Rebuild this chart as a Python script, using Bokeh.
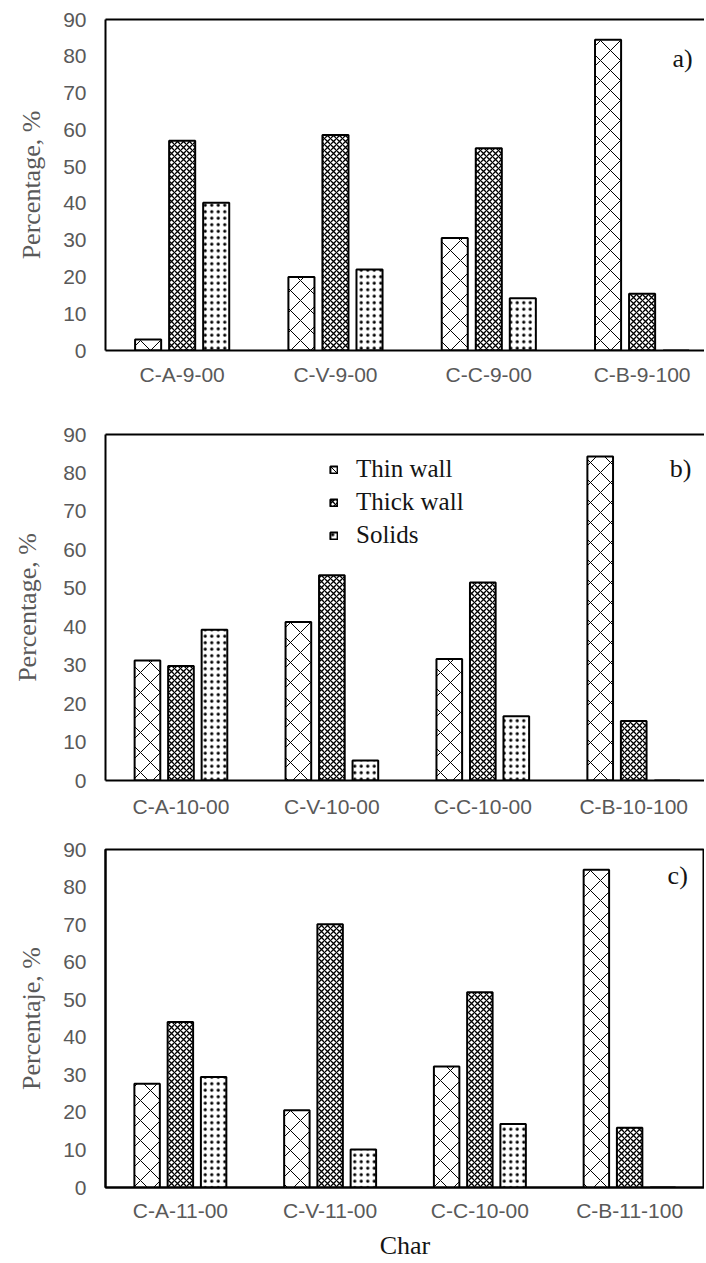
import numpy as np
from bokeh.plotting import figure
from bokeh.models import (ColumnDataSource, FixedTicker, LinearAxis, Legend,
                          LegendItem, Label, Range1d)
from bokeh.transform import dodge
from bokeh.layouts import column
from bokeh.embed import file_html
from bokeh.resources import INLINE

# ---------------- data ----------------
series = ["Thin wall", "Thick wall", "Solids"]
y_ticks = [0, 10, 20, 30, 40, 50, 60, 70, 80, 90]

cats_a = ["C-A-9-00", "C-V-9-00", "C-C-9-00", "C-B-9-100"]
thin_a = [3.0, 20.0, 30.6, 84.5]
thick_a = [57.0, 58.6, 55.0, 15.4]
solids_a = [40.2, 22.0, 14.2, 0.0]

cats_b = ["C-A-10-00", "C-V-10-00", "C-C-10-00", "C-B-10-100"]
thin_b = [31.2, 41.2, 31.6, 84.3]
thick_b = [29.8, 53.4, 51.5, 15.5]
solids_b = [39.2, 5.2, 16.7, 0.0]

cats_c = ["C-A-11-00", "C-V-11-00", "C-C-10-00", "C-B-11-100"]
thin_c = [27.6, 20.6, 32.2, 84.6]
thick_c = [44.1, 70.1, 52.0, 15.9]
solids_c = [29.4, 10.1, 16.9, 0.0]

ylabel_ab = "Percentage, %"
ylabel_c = "Percentaje, %"
xlabel_c = "Char"
tags = ["a)", "b)", "c)"]

# ---------------- styles ----------------
SANS = "Liberation Sans"
SERIF = "Liberation Serif"
GRAY = "#595959"
INK = "#141414"
W = 704
BAR_W = 0.17
OFF = 0.222
hatch_styles = [
    dict(hatch_pattern="x", hatch_scale=20, hatch_weight=1.0),
    dict(hatch_pattern="x", hatch_scale=6, hatch_weight=1.3),
    dict(hatch_pattern=".", hatch_scale=6.5, hatch_weight=1.0),
]


def make_panel(cats, thin, thick, solids, x_end, height, top, bottom, left,
               ylabel, tag, tag_x, tag_y, right_border, ylabel_standoff,
               tick_standoff, xlabel=None, legend_loc=None):
    p = figure(width=W, height=height, output_backend="svg",
               toolbar_location=None, x_range=Range1d(0, x_end),
               y_range=Range1d(0, 90), min_border_top=top,
               min_border_bottom=bottom, min_border_left=left,
               min_border_right=0, x_axis_location=None,
               y_axis_location=None)
    p.background_fill_color = "white"
    p.border_fill_color = "white"
    p.xgrid.visible = False
    p.ygrid.visible = False
    if right_border:
        p.outline_line_color = "black"
        p.outline_line_width = 2
    else:
        p.outline_line_color = None

    xc = list(np.arange(len(cats)) + 0.5)
    src = ColumnDataSource(dict(xc=xc, thin=thin, thick=thick, solids=solids))
    renderers = []
    for key, off, st in zip(["thin", "thick", "solids"], [-OFF, 0.0, OFF],
                            hatch_styles):
        r = p.vbar(x=dodge("xc", off, range=p.x_range), top=key, bottom=0,
                   width=BAR_W, source=src, fill_color="white",
                   line_color="black", line_width=2, hatch_color="black",
                   **st)
        renderers.append(r)

    # axes
    xaxis = LinearAxis(ticker=FixedTicker(ticks=xc),
                       major_label_overrides={float(x): c for x, c in zip(xc, cats)})
    xaxis.major_tick_line_color = None
    xaxis.minor_tick_line_color = None
    xaxis.major_tick_out = 0
    xaxis.major_tick_in = 0
    xaxis.axis_line_width = 2
    xaxis.axis_line_color = "black"
    xaxis.major_label_text_font = SANS
    xaxis.major_label_text_font_size = "21px"
    xaxis.major_label_text_color = GRAY
    xaxis.major_label_standoff = tick_standoff
    if xlabel:
        xaxis.axis_label = xlabel
        xaxis.axis_label_text_font = SERIF
        xaxis.axis_label_text_font_size = "26px"
        xaxis.axis_label_text_font_style = "normal"
        xaxis.axis_label_text_color = INK
        xaxis.axis_label_standoff = 6
    p.add_layout(xaxis, "below")

    yaxis = LinearAxis(ticker=FixedTicker(ticks=y_ticks))
    yaxis.major_tick_line_color = None
    yaxis.minor_tick_line_color = None
    yaxis.major_tick_out = 0
    yaxis.major_tick_in = 0
    yaxis.axis_line_width = 2
    yaxis.axis_line_color = "black"
    yaxis.major_label_text_font = SANS
    yaxis.major_label_text_font_size = "21px"
    yaxis.major_label_text_color = GRAY
    yaxis.major_label_standoff = 19
    yaxis.axis_label = ylabel
    yaxis.axis_label_text_font = SERIF
    yaxis.axis_label_text_font_size = "26px"
    yaxis.axis_label_text_font_style = "normal"
    yaxis.axis_label_text_color = GRAY
    yaxis.axis_label_standoff = ylabel_standoff
    p.add_layout(yaxis, "left")

    if not right_border:
        top_axis = LinearAxis(ticker=FixedTicker(ticks=[]))
        top_axis.major_tick_line_color = None
        top_axis.minor_tick_line_color = None
        top_axis.major_tick_out = 0
        top_axis.major_tick_in = 0
        top_axis.axis_line_width = 2
        top_axis.axis_line_color = "black"
        p.add_layout(top_axis, "above")

    p.add_layout(Label(x=tag_x, y=tag_y, text=tag, text_font=SERIF,
                       text_font_size="26px", text_color=INK,
                       text_align="center", text_baseline="middle"))

    if legend_loc is not None:
        leg = Legend(items=[LegendItem(label=s, renderers=[r])
                            for s, r in zip(series, renderers)],
                     location=legend_loc, glyph_width=9, glyph_height=9,
                     label_standoff=18, spacing=5, padding=0, margin=0,
                     border_line_color=None, background_fill_alpha=0,
                     label_text_font=SERIF, label_text_font_size="25px",
                     label_text_color=INK)
        p.add_layout(leg)
    return p


pa = make_panel(cats_a, thin_a, thick_a, solids_a, x_end=3.907, height=392,
                top=19, bottom=42, left=105, ylabel=ylabel_ab, tag=tags[0],
                tag_x=3.764, tag_y=79.4, right_border=False,
                ylabel_standoff=14, tick_standoff=12)
pb = make_panel(cats_b, thin_b, thick_b, solids_b, x_end=3.969, height=428,
                top=42, bottom=39, left=98, ylabel=ylabel_ab, tag=tags[1],
                tag_x=3.811, tag_y=81.2, right_border=False,
                ylabel_standoff=18, tick_standoff=14, legend_loc=(224, 231))
pc = make_panel(cats_c, thin_c, thick_c, solids_c, x_end=4.0, height=442,
                top=29, bottom=73, left=100, ylabel=ylabel_c, tag=tags[2],
                tag_x=3.821, tag_y=83.1, right_border=True,
                ylabel_standoff=14, tick_standoff=11, xlabel=xlabel_c)

layout = column(pa, pb, pc, spacing=0)
open("out.html", "w").write(file_html(layout, INLINE))
